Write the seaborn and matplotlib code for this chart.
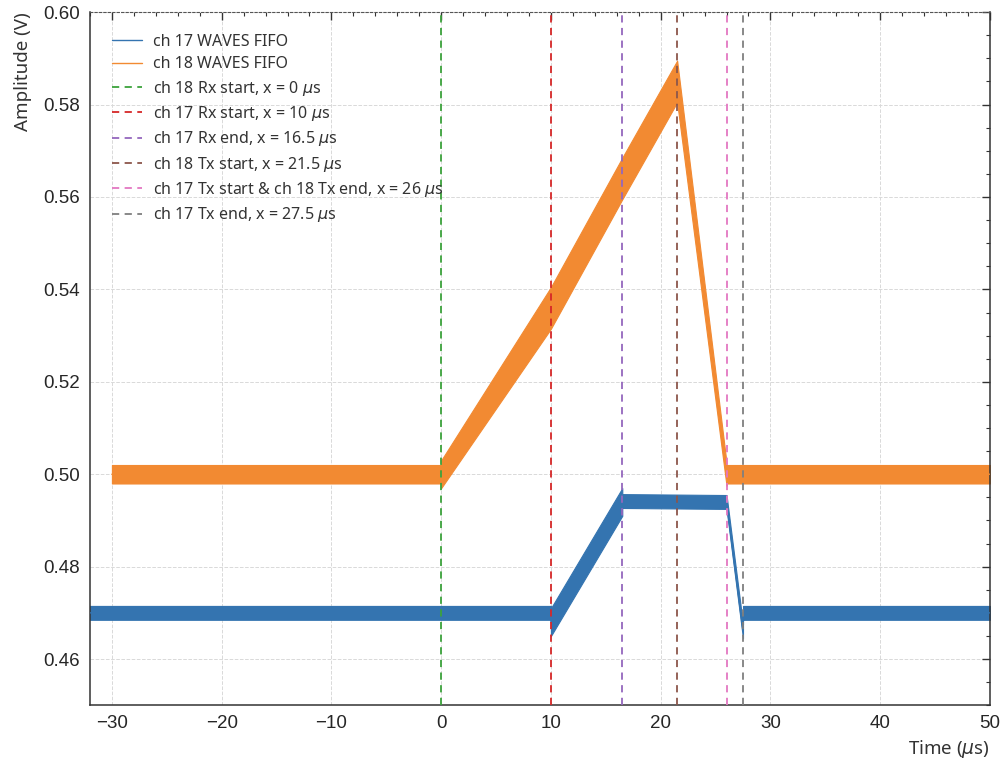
import numpy as np
import pandas as pd
import matplotlib
matplotlib.use("Agg")
import matplotlib.pyplot as plt
import seaborn as sns
from matplotlib.ticker import MultipleLocator

# ch 17 trace: breakpoints (time in us, centre value, half-width of noise band)
t17 = [-32, 10, 10, 16.5, 16.5, 26, 27.5, 27.5, 50]
c17 = [0.4700, 0.4700, 0.4680, 0.4940, 0.4942, 0.4940, 0.4660, 0.4700, 0.4700]
w17 = [0.0015, 0.0015, 0.0030, 0.0030, 0.0015, 0.0015, 0.0015, 0.0015, 0.0015]

# ch 18 trace
t18 = [-30, 0, 0, 10, 16.5, 21.5, 26, 26, 50]
c18 = [0.5000, 0.5000, 0.5000, 0.5360, 0.5640, 0.5850, 0.5000, 0.5000, 0.5000]
w18 = [0.0020, 0.0020, 0.0030, 0.0045, 0.0045, 0.0045, 0.0025, 0.0020, 0.0020]

# event markers
ev_x = [0, 10, 16.5, 21.5, 26, 27.5]
ev_lab = ["ch 18 Rx start, x = 0 $\\mu$s",
          "ch 17 Rx start, x = 10 $\\mu$s",
          "ch 17 Rx end, x = 16.5 $\\mu$s",
          "ch 18 Tx start, x = 21.5 $\\mu$s",
          "ch 17 Tx start & ch 18 Tx end, x = 26 $\\mu$s",
          "ch 17 Tx end, x = 27.5 $\\mu$s"]
ev_col = ["#3ca23c", "#d62728", "#9467bd", "#8c564b", "#e377c2", "#7f7f7f"]

blue = "#3474b0"
orange = "#f28a32"

sns.set_style("white")
plt.rcParams['font.family'] = ['Noto Sans', 'DejaVu Sans']
plt.rcParams['mathtext.fontset'] = 'dejavusans'

fig = plt.figure(figsize=(10.04, 7.6), dpi=100)
ax = fig.add_axes([0.0896, 0.072, 0.8964, 0.912])

d17 = pd.DataFrame({'t': t17, 'v': c17, 'w': w17})
d18 = pd.DataFrame({'t': t18, 'v': c18, 'w': w18})

ax.fill_between(d17['t'], d17['v'] - d17['w'], d17['v'] + d17['w'],
                color=blue, lw=0.8, edgecolor=blue, zorder=2)
ax.fill_between(d18['t'], d18['v'] - d18['w'], d18['v'] + d18['w'],
                color=orange, lw=0.8, edgecolor=orange, zorder=2)
sns.lineplot(data=d17, x='t', y='v', color=blue, lw=1, sort=False,
             estimator=None, label="ch 17 WAVES FIFO", ax=ax, zorder=3)
sns.lineplot(data=d18, x='t', y='v', color=orange, lw=1, sort=False,
             estimator=None, label="ch 18 WAVES FIFO", ax=ax, zorder=3)

for x, lab, col in zip(ev_x, ev_lab, ev_col):
    ax.axvline(x, color=col, ls=(0, (4, 3)), lw=1.3, label=lab, zorder=4)

ax.set_xlim(-32, 50)
ax.set_ylim(0.45, 0.60)
ax.xaxis.set_major_locator(MultipleLocator(10))
ax.xaxis.set_minor_locator(MultipleLocator(2))
ax.yaxis.set_major_locator(MultipleLocator(0.02))
ax.yaxis.set_minor_locator(MultipleLocator(0.005))
ax.tick_params(which='both', direction='in', top=True, right=True, color='#333333')
ax.tick_params(which='major', length=6, width=1)
ax.tick_params(which='minor', length=3, width=0.8)
for lab in ax.get_xticklabels() + ax.get_yticklabels():
    lab.set_fontfamily('Liberation Sans')
    lab.set_fontsize(13.5)
ax.tick_params(axis='x', pad=7)
ax.tick_params(axis='y', pad=7)

ax.grid(True, which='major', ls='--', lw=0.7, color='#d9d9d9', zorder=0)
for s in ['left', 'right', 'bottom']:
    ax.spines[s].set_color('#333333')
    ax.spines[s].set_linewidth(1.1)
ax.spines['top'].set_linestyle((0, (2, 2)))
ax.spines['top'].set_color('#555555')
ax.spines['top'].set_linewidth(0.8)

ax.set_xlabel("Time ($\\mu$s)", fontsize=13.5, loc='right', color='#333333', labelpad=4)
ax.set_ylabel("Amplitude (V)", fontsize=13.5, loc='top', color='#333333', labelpad=8)

leg = ax.legend(loc='upper left', frameon=False, fontsize=11.5, handlelength=1.9,
                labelspacing=0.4, borderaxespad=0.95, handletextpad=0.7)
for t in leg.get_texts():
    t.set_color('#333333')

fig.savefig("out.png", dpi=100)
